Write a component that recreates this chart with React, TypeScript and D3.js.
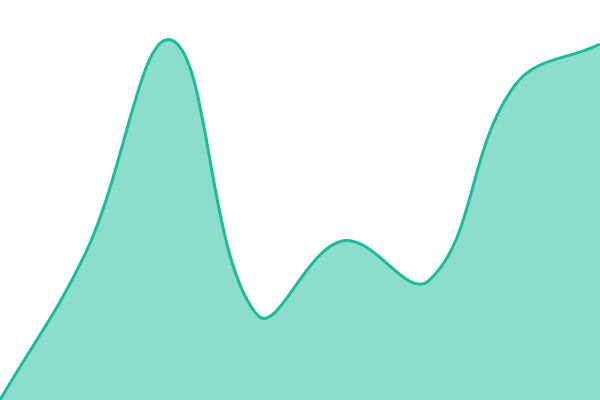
import { useEffect, useRef } from "react";
import * as d3 from "d3";

const labels = ["A", "B", "C", "D", "E", "F", "G", "H"];
const values = [0, 36.8, 90, 21.3, 39.8, 29.8, 78.5, 89];

const W = 600;
const H = 400;
const TENSION = 0.4;

// spline with distance-weighted control points, clamped to the plot box
class TensionCurve {
  _context: any;
  _line: number;
  _pts: [number, number][] = [];
  constructor(context: any) {
    this._context = context;
    this._line = NaN;
  }
  areaStart() {
    this._line = 0;
  }
  areaEnd() {
    this._line = NaN;
  }
  lineStart() {
    this._pts = [];
  }
  point(x: number, y: number) {
    this._pts.push([+x, +y]);
  }
  lineEnd() {
    const p = this._pts;
    const n = p.length;
    const ctx = this._context;
    if (n) {
      if (this._line) ctx.lineTo(p[0][0], p[0][1]);
      else ctx.moveTo(p[0][0], p[0][1]);
    }
    const clampX = (v: number) => Math.max(0, Math.min(W, v));
    const clampY = (v: number) => Math.max(0, Math.min(H, v));
    const cps = p.map((mid, i) => {
      const prev = p[Math.max(0, i - 1)];
      const next = p[Math.min(n - 1, i + 1)];
      const d01 = Math.hypot(mid[0] - prev[0], mid[1] - prev[1]);
      const d12 = Math.hypot(next[0] - mid[0], next[1] - mid[1]);
      let s01 = d01 / (d01 + d12);
      let s12 = d12 / (d01 + d12);
      if (isNaN(s01)) s01 = 0;
      if (isNaN(s12)) s12 = 0;
      const fa = TENSION * s01;
      const fb = TENSION * s12;
      return {
        c1: [clampX(mid[0] - fa * (next[0] - prev[0])), clampY(mid[1] - fa * (next[1] - prev[1]))],
        c2: [clampX(mid[0] + fb * (next[0] - prev[0])), clampY(mid[1] + fb * (next[1] - prev[1]))],
      };
    });
    for (let i = 1; i < n; i++) {
      ctx.bezierCurveTo(cps[i - 1].c2[0], cps[i - 1].c2[1], cps[i].c1[0], cps[i].c1[1], p[i][0], p[i][1]);
    }
    if (this._line || (this._line !== 0 && n === 1)) ctx.closePath();
    this._line = 1 - this._line;
  }
}

const curveTension = (context: any) => new TensionCurve(context);

const App = () => {
  const ref = useRef<SVGSVGElement>(null);

  useEffect(() => {
    const svg = d3.select(ref.current);
    svg.selectAll("*").remove();

    const x = d3.scalePoint<string>().domain(labels).range([0, W]);
    const y = d3.scaleLinear().domain([0, 100]).range([H, 0]);

    const area = d3
      .area<number>()
      .x((_, i) => x(labels[i]) as number)
      .y0(y(0))
      .y1((d) => y(d))
      .curve(curveTension as any);

    const line = d3
      .line<number>()
      .x((_, i) => x(labels[i]) as number)
      .y((d) => y(d))
      .curve(curveTension as any);

    svg
      .append("path")
      .datum(values)
      .attr("d", area)
      .attr("fill", "#1abc9c")
      .attr("fill-opacity", 0.5);

    svg
      .append("path")
      .datum(values)
      .attr("d", line)
      .attr("fill", "none")
      .attr("stroke", "#1abc9c")
      .attr("stroke-width", 3);
  }, []);

  return (
    <svg
      ref={ref}
      width={W}
      height={H}
      style={{ position: "fixed", top: 0, left: 0, background: "#fff" }}
    />
  );
};

export default App;
